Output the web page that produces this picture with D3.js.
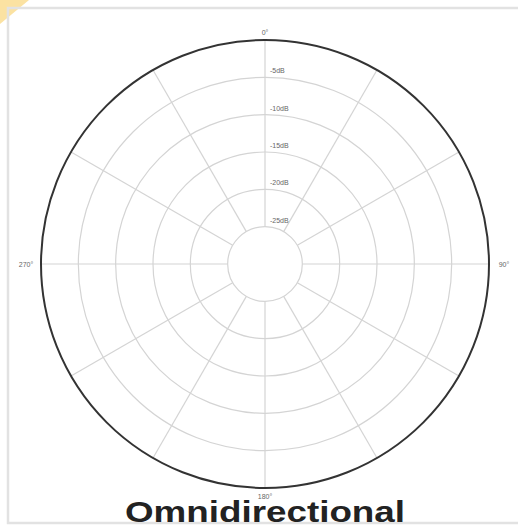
<!DOCTYPE html>
<html>
<head>
<meta charset="utf-8">
<script src="https://cdn.jsdelivr.net/npm/d3@7"></script>
<style>
  body { margin: 0; background: #fff; }
  svg { display: block; }
</style>
</head>
<body>
<script>
// polar pattern grid - values in dB, angles in degrees
var dbRings = [-5, -10, -15, -20, -25];
var dbRange = [-30, 0];
var spokeAngles = [0, 30, 60, 90, 120, 150, 180, 210, 240, 270, 300, 330];
var angleLabels = [[0, "0°"], [90, "90°"], [180, "180°"], [270, "270°"]];
var title = "Omnidirectional";

var W = 518, H = 525;
var cx = 265, cy = 264, R = 224;

var svg = d3.select("body").append("svg")
  .attr("width", W)
  .attr("height", H);

// page decoration: yellow corner + frame
svg.append("path")
  .attr("d", "M0,0 L29,0 L0,24 Z")
  .attr("fill", "#fbe2a2");
svg.append("rect")
  .attr("x", 8).attr("y", 8)
  .attr("width", 520).attr("height", 515)
  .attr("fill", "none")
  .attr("stroke", "#e2e2e2")
  .attr("stroke-width", 2.5);

var r = d3.scaleLinear().domain(dbRange).range([0, R]);
var rInner = r(dbRings[dbRings.length - 1]);

var g = svg.append("g").attr("transform", "translate(" + cx + "," + cy + ")");

// spokes from the inner ring to the edge
g.selectAll(".spoke")
  .data(spokeAngles)
  .enter().append("line")
    .attr("class", "spoke")
    .attr("x1", function(d) { return rInner * Math.sin(d * Math.PI / 180); })
    .attr("y1", function(d) { return -rInner * Math.cos(d * Math.PI / 180); })
    .attr("x2", function(d) { return R * Math.sin(d * Math.PI / 180); })
    .attr("y2", function(d) { return -R * Math.cos(d * Math.PI / 180); })
    .attr("stroke", "#d4d4d4")
    .attr("stroke-width", 1.2);

// dB rings
g.selectAll(".ring")
  .data(dbRings)
  .enter().append("circle")
    .attr("class", "ring")
    .attr("r", function(d) { return r(d); })
    .attr("fill", "none")
    .attr("stroke", "#d4d4d4")
    .attr("stroke-width", 1.2);

// outer edge
g.append("circle")
  .attr("r", r(dbRange[1]))
  .attr("fill", "none")
  .attr("stroke", "#333")
  .attr("stroke-width", 2);

// ring labels
g.selectAll(".dblabel")
  .data(dbRings)
  .enter().append("text")
    .attr("class", "dblabel")
    .attr("x", 5)
    .attr("y", function(d) { return -r(d) - 4; })
    .attr("font-family", "Liberation Sans, Arial, sans-serif")
    .attr("font-size", 7)
    .attr("fill", "#666")
    .text(function(d) { return d + "dB"; });

// angle labels
g.selectAll(".anglabel")
  .data(angleLabels)
  .enter().append("text")
    .attr("class", "anglabel")
    .attr("x", function(d) { return (R + 15) * Math.sin(d[0] * Math.PI / 180); })
    .attr("y", function(d) { return -(R + 8) * Math.cos(d[0] * Math.PI / 180) + 2.5; })
    .attr("text-anchor", "middle")
    .attr("font-family", "Liberation Sans, Arial, sans-serif")
    .attr("font-size", 7)
    .attr("fill", "#666")
    .text(function(d) { return d[1]; });

// title (wide bold face in the original, so stretch to its width)
svg.append("text")
  .attr("x", 265)
  .attr("y", 522)
  .attr("text-anchor", "middle")
  .attr("font-family", "Liberation Sans, Arial, sans-serif")
  .attr("font-weight", "bold")
  .attr("font-size", 30)
  .attr("textLength", 280)
  .attr("lengthAdjust", "spacingAndGlyphs")
  .attr("fill", "#222")
  .text(title);
</script>
</body>
</html>
